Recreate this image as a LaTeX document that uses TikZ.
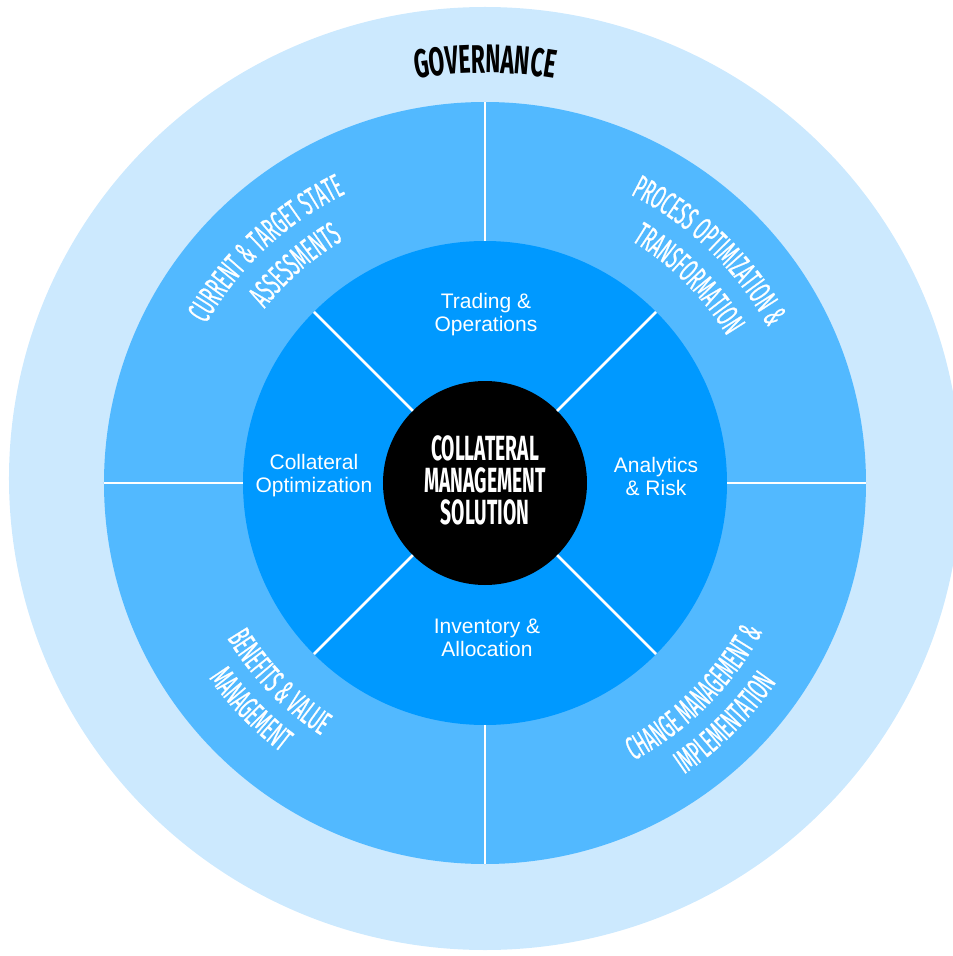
\documentclass[tikz,border=0pt]{standalone}
\usepackage{fontspec}
\setmainfont{Liberation Sans}
\newfontfamily\ringfont[FakeStretch=0.5, FakeBold=0.6]{Fira Sans}
\newfontfamily\boldcond[FakeStretch=0.55]{Fira Sans}
\newfontfamily\govcond[FakeStretch=0.57]{Fira Sans}
\usetikzlibrary{decorations.text}
\definecolor{outerblue}{RGB}{204,233,254}
\definecolor{midblue}{RGB}{82,185,255}
\definecolor{innerblue}{RGB}{0,153,255}
\newcommand\rlfont{\ringfont\fontsize{33}{34}\selectfont}
\newcommand\govfont{\govcond\bfseries\fontsize{40}{40}\selectfont}
\tikzset{
  sepline/.style={white, line width=2.5pt},
  ringlabel/.style={decorate, decoration={text along path, text align=center, text color=white, text={#1}}},
  govlabel/.style={decorate, decoration={text along path, text align=center, text color=black, text={#1}}},
  innerlabel/.style={text=white, align=center, font=\fontsize{21}{23}\selectfont},
  corelabel/.style={text=white, align=center, font=\boldcond\bfseries\fontsize{35}{32}\selectfont},
}
\begin{document}
\begin{tikzpicture}[x=1pt,y=1pt]
\useasboundingbox (-485,-473) rectangle (468,483);
\begin{scope}
  \clip (-485,-473) rectangle (468,483);
  \fill[outerblue] (0,4.5) ellipse[x radius=476pt, y radius=471.5pt];
\end{scope}
\fill[midblue] (0,0) circle[radius=381pt];
\fill[innerblue] (0,0) circle[radius=242pt];
\fill[black] (0,0) circle[radius=102pt];
% separators
\draw[sepline] (0,242) -- (0,381);
\draw[sepline] (0,-242) -- (0,-381);
\draw[sepline] (242,0) -- (381,0);
\draw[sepline] (-242,0) -- (-381,0);
\draw[sepline] (45:102pt) -- (45:242pt);
\draw[sepline] (135:102pt) -- (135:242pt);
\draw[sepline] (225:102pt) -- (225:242pt);
\draw[sepline] (315:102pt) -- (315:242pt);
% governance
\path[govlabel={|\govfont|GOVERNANCE}] (140:410pt) arc[start angle=140, end angle=40, radius=410pt];
% ring labels upper-left
\path[ringlabel={|\rlfont|CURRENT {\&} TARGET STATE}] (183:321pt) arc[start angle=183, end angle=83, radius=321pt];
\path[ringlabel={|\rlfont|ASSESSMENTS}] (181:281pt) arc[start angle=181, end angle=81, radius=281pt];
% upper-right
\path[ringlabel={|\rlfont|PROCESS OPTIMIZATION {\&}}] (96:323pt) arc[start angle=96, end angle=-4, radius=323pt];
\path[ringlabel={|\rlfont|TRANSFORMATION}] (95:283pt) arc[start angle=95, end angle=-5, radius=283pt];
% lower-left
\path[ringlabel={|\rlfont|BENEFITS {\&} VALUE}] (174:301pt) arc[start angle=174, end angle=274, radius=301pt];
\path[ringlabel={|\rlfont|MANAGEMENT}] (174:338pt) arc[start angle=174, end angle=274, radius=338pt];
% lower-right
\path[ringlabel={|\rlfont|CHANGE MANAGEMENT {\&}}] (265:315pt) arc[start angle=265, end angle=365, radius=315pt];
\path[ringlabel={|\rlfont|IMPLEMENTATION}] (265:353pt) arc[start angle=265, end angle=365, radius=353pt];
% inner labels
\node[innerlabel] (trading) at (1,168) {Trading \&\\Operations};
\node[innerlabel] (analytics) at (171,7) {Analytics\\\& Risk};
\node[innerlabel] (inventory) at (2,-155) {Inventory \&\\Allocation};
\node[innerlabel] (collopt) at (-171,7) {Collateral\\Optimization};
\node[corelabel] (core) at (0,3) {COLLATERAL\\MANAGEMENT\\SOLUTION};
\end{tikzpicture}
\end{document}
